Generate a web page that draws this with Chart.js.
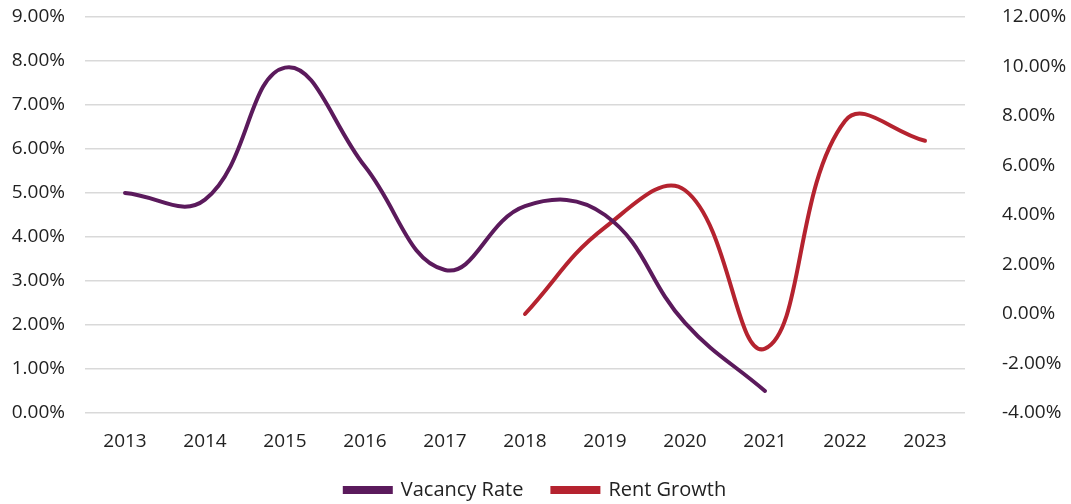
<!DOCTYPE html>
<html>
<head>
<meta charset="utf-8">
<script src="https://cdn.jsdelivr.net/npm/chart.js@4"></script>
<style>
  html, body { margin: 0; padding: 0; background: #fff; }
  #wrap { width: 1071px; height: 504px; }
</style>
</head>
<body>
<div id="wrap"><canvas id="chart" width="1071" height="504"></canvas></div>
<script>
// chart data
const years = ["2013","2014","2015","2016","2017","2018","2019","2020","2021","2022","2023"];
const vacancyRate = [5.0, 4.85, 7.85, 5.6, 3.25, 4.7, 4.5, 2.05, 0.5, null, null];
const rentGrowth = [null, null, null, null, null, 0.0, 3.5, 5.0, -1.4, 7.8, 7.0];

const purple = "#5b1a5c";
const red = "#b5232f";
const textColor = "#222222";

Chart.defaults.font.family = "'Open Sans', sans-serif";
Chart.defaults.font.size = 19;
Chart.defaults.color = textColor;

new Chart(document.getElementById("chart"), {
  type: "line",
  data: {
    labels: years,
    datasets: [{
      label: "Vacancy Rate",
      data: vacancyRate,
      yAxisID: "y",
      borderColor: purple,
      backgroundColor: purple,
      borderWidth: 4,
      borderCapStyle: "round",
      pointRadius: 0,
      tension: 0.42
    }, {
      label: "Rent Growth",
      data: rentGrowth,
      yAxisID: "y2",
      borderColor: red,
      backgroundColor: red,
      borderWidth: 4,
      borderCapStyle: "round",
      pointRadius: 0,
      tension: 0.42
    }]
  },
  options: {
    responsive: false,
    animation: false,
    layout: { padding: { top: 17, bottom: -6, left: 0, right: 0 } },
    plugins: {
      tooltip: { enabled: false },
      legend: {
        position: "bottom",
        labels: {
          boxWidth: 46,
          boxHeight: 4,
          padding: 29,
          color: textColor,
          font: { size: 20 }
        }
      }
    },
    scales: {
      x: {
        offset: true,
        grid: { display: false, drawTicks: false },
        border: { display: false },
        ticks: { padding: 17, maxRotation: 0 },
        afterFit: (s) => { s.height = 38; }
      },
      y: {
        position: "left",
        min: 0,
        max: 9,
        ticks: {
          stepSize: 1,
          padding: 4,
          callback: (v) => v.toFixed(2) + "%"
        },
        grid: { color: "#d9d9d9", lineWidth: 1.5, drawTicks: true, tickLength: 16, tickColor: "rgba(0,0,0,0)" },
        border: { display: false },
        afterFit: (s) => { s.width = 85; }
      },
      y2: {
        position: "right",
        min: -4,
        max: 12,
        ticks: {
          stepSize: 2,
          padding: 4,
          callback: (v) => v.toFixed(2) + "%"
        },
        grid: { display: false, drawTicks: true, tickLength: 33 },
        border: { display: false },
        afterFit: (s) => { s.width = 106; }
      }
    }
  }
});
</script>
</body>
</html>
